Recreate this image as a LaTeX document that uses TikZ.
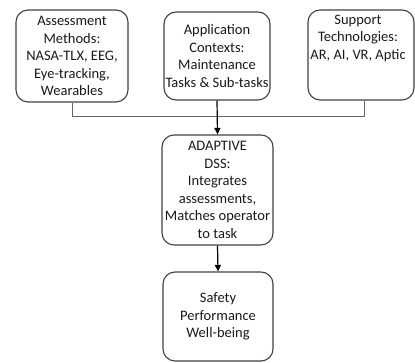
\documentclass[tikz,border=0pt]{standalone}
\usepackage{fontspec}
\setmainfont{Carlito}
\usepackage{tikz}
\usetikzlibrary{positioning, calc, arrows.meta}

\begin{document}
\begin{tikzpicture}[x=1pt,y=1pt,
    box/.style={draw=black!75, line width=1.1pt, rounded corners=12pt,
        align=center, inner sep=0pt, text=black!90,
        font=\fontsize{14.5}{17.5}\selectfont},
    link/.style={draw=black!60, line width=1pt},
    flow/.style={draw=black, line width=1.2pt, -{Triangle[length=6.5pt,width=6pt]}}]

        \useasboundingbox (0,0) rectangle (415,363);

        % ===================================================
        % Top row: inputs
        % ===================================================
        \node[box, minimum width=112pt, minimum height=92pt] (assess) at (72,307)
            {Assessment\\Methods:\\NASA-TLX, EEG,\\Eye-tracking,\\Wearables};
        \node[box, minimum width=106pt, minimum height=88pt] (context) at (217,307)
            {Application\\Contexts:\\Maintenance\\Tasks \& Sub-tasks};
        \node[box, minimum width=106pt, minimum height=90pt] (support) at (361,308) {};
        \node[anchor=north, align=center, text=black!90,
            font=\fontsize{14.5}{17.5}\selectfont, inner sep=0pt]
            (supporttxt) at ($(support.north)+(-3,-5)$)
            {Support\\Technologies:\\AR, AI, VR, Aptic};

        % ===================================================
        % DSS and outcome
        % ===================================================
        \node[box, minimum width=111pt, minimum height=110pt] (dss) at (217.5,173)
            {ADAPTIVE\\DSS:\\Integrates\\assessments,\\Matches operator\\to task};
        \node[box, minimum width=110pt, minimum height=89pt] (outcome) at (218,46.5)
            {Safety\\Performance\\Well-being};

        % ===================================================
        % Connectors
        % ===================================================
        \draw[link] (assess.south) -- ++(0,-14) coordinate (bus) -| ($(support.south)+(3,0)$);
        \draw[flow] (context.south) -- (dss.north);
        \draw[flow] (dss.south) -- (outcome.north);

    \end{tikzpicture}
\end{document}
